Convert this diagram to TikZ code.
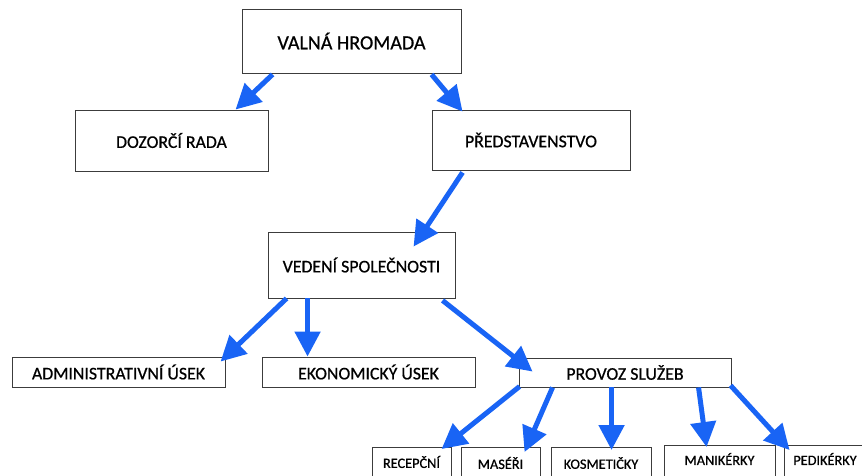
\documentclass[tikz,border=0pt]{standalone}
\usepackage{fontspec}
\setmainfont{Carlito}
\newfontfamily\boxfont{Carlito}[FakeBold=0.7]
\usetikzlibrary{arrows.meta}
\definecolor{linkblue}{RGB}{25,100,245}
\definecolor{frame}{RGB}{60,60,60}
\begin{document}
\begin{tikzpicture}[x=1pt,y=-1pt,
  box/.style={draw=frame,line width=0.9pt,fill=white,inner sep=0pt,
    minimum width=#1},
  big/.style={font=\boxfont\fontsize{20}{22}\selectfont},
  mid/.style={font=\boxfont\fontsize{17.8}{20}\selectfont},
  small/.style={font=\boxfont\fontsize{14.3}{16}\selectfont},
  link/.style={draw=linkblue,line width=5pt,
    -{Triangle[length=25pt,width=25pt]}}]
\clip (0,0) rectangle (862,475);
\fill[white] (0,0) rectangle (862,475);

% upper levels
\node[box=219,minimum height=64,big] (vh) at (351.5,41) {VALNÁ HROMADA};
\node[box=193,minimum height=61,mid] (dr) at (171.5,140.5) {DOZORČÍ RADA};
\node[box=198,minimum height=60,mid] (pr) at (531,140) {PŘEDSTAVENSTVO};
\node[box=187,minimum height=66,mid] (vs) at (361.5,265) {VEDENÍ SPOLEČNOSTI};

% departments
\node[box=213,minimum height=30,mid] (au) at (118.5,372) {ADMINISTRATIVNÍ ÚSEK};
\node[box=213,minimum height=30,mid] (eu) at (368.5,372) {EKONOMICKÝ ÚSEK};
\node[box=212,minimum height=29,mid] (ps) at (625,372.5) {PROVOZ SLUŽEB};

% service staff (boxes run past the bottom edge)
\node[box=79,minimum height=40,anchor=north] (rc) at (411.5,447) {};
\node[small] (rct) at ([yshift=-15]rc.north) {RECEPČNÍ};
\node[box=79,minimum height=40,anchor=north] (ms) at (500.5,447) {};
\node[small] (mst) at ([yshift=-16]ms.north) {MASÉŘI};
\node[box=100,minimum height=40,anchor=north] (ko) at (601,447) {};
\node[small] (kot) at ([yshift=-16]ko.north) {KOSMETIČKY};
\node[box=111,minimum height=40,anchor=north] (mn) at (719.5,445) {};
\node[small] (mnt) at ([yshift=-14]mn.north) {MANIKÉRKY};
\node[box=82,minimum height=40,anchor=north] (pd) at (825,445) {};
\node[small] (pdt) at ([yshift=-14]pd.north) {PEDIKÉRKY};

% connectors
\draw[link] ([shift={(31,1)}]vh.south west) -- ([shift={(161,0)}]dr.north west);
\draw[link] ([shift={(190,1)}]vh.south west) -- ([shift={(31,2)}]pr.north west);
\draw[link] ([shift={(31,2)}]pr.south west) -- ([shift={(146,15)}]vs.north west);
\draw[link] ([shift={(19,0)}]vs.south west) -- ([shift={(209,5)}]au.north west);
\draw[link] ([shift={(40,0)}]vs.south west) -- ([shift={(46,0)}]eu.north west);
\draw[link] ([shift={(175,2)}]vs.south west) -- ([shift={(14,14)}]ps.north west);
\draw[link] ([shift={(1,-1)}]ps.south west) -- ([shift={(70,2)}]rc.north west);
\draw[link] ([shift={(34,0)}]ps.south west) -- ([shift={(64,5)}]ms.north west);
\draw[link] ([shift={(93,0)}]ps.south west) -- ([shift={(61,3)}]ko.north west);
\draw[link] ([shift={(180,0)}]ps.south west) -- ([shift={(43,2)}]mn.north west);
\draw[link] ([shift={(212,-2)}]ps.south west) -- ([shift={(6,5)}]pd.north west);
\end{tikzpicture}
\end{document}
